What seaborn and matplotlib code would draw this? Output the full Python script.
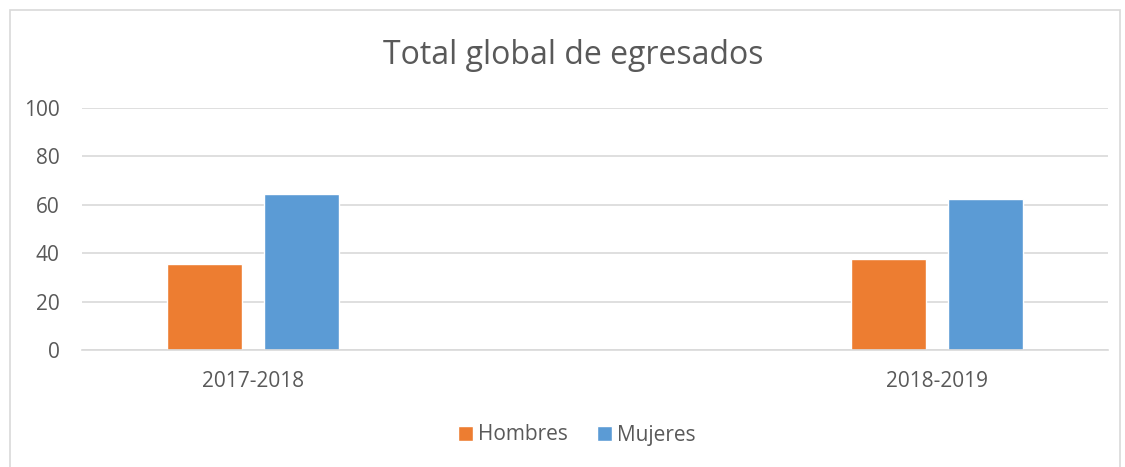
import matplotlib
matplotlib.use("Agg")
import matplotlib.pyplot as plt
import seaborn as sns
import pandas as pd
from matplotlib.patches import Rectangle

periods = ["2017-2018", "2018-2019"]
series = ["Hombres", "Mujeres"]
hombres = [35.6, 37.4]
mujeres = [64.4, 62.6]
yticks = [0, 20, 40, 60, 80, 100]
title = "Total global de egresados"
colors = ["#ED7D31", "#5B9BD5"]

df = pd.DataFrame({
    "periodo": periods * 2,
    "serie": [series[0]] * len(periods) + [series[1]] * len(periods),
    "valor": hombres + mujeres,
})

sns.set_theme(style="white")
plt.rcParams["font.family"] = ["Open Sans", "DejaVu Sans"]

fig = plt.figure(figsize=(11.25, 4.67), dpi=100)
ax = fig.add_axes([82/1125, 1-350/467, (1108-82)/1125, (350-108)/467])

sns.barplot(data=df, x="periodo", y="valor", hue="serie", order=periods,
            hue_order=series, palette=colors, width=0.2836, gap=0.217,
            saturation=1, ax=ax, legend=True)

ax.set_xlim(-0.25, 1.25)
ax.set_ylim(0, 100)
ax.set_yticks(yticks)
ax.set_yticklabels([str(v) for v in yticks])
ax.grid(axis="y", color="#D9D9D9", linewidth=1.2)
ax.set_axisbelow(True)
for s in ["top", "right", "left"]:
    ax.spines[s].set_visible(False)
ax.spines["bottom"].set_color("#D9D9D9")
ax.spines["bottom"].set_linewidth(1.2)
ax.tick_params(axis="both", length=0, labelsize=15, colors="#595959")
ax.tick_params(axis="y", pad=16)
ax.tick_params(axis="x", pad=15)
ax.set_xlabel("")
ax.set_ylabel("")

fig.text(573/1125, 1-55/467, title, ha="center", va="center",
         fontsize=23, color="#595959")

leg = ax.legend(loc="center", bbox_to_anchor=(577/1125, 1-435/467),
                bbox_transform=fig.transFigure, ncol=2, frameon=False,
                fontsize=15, handlelength=0.7, handleheight=0.7,
                handletextpad=0.25, columnspacing=1.4)
for t in leg.get_texts():
    t.set_color("#595959")

fig.add_artist(Rectangle((10/1125, -0.1), (1120-10)/1125, 1.1 - 10/467,
                         transform=fig.transFigure, fill=False,
                         edgecolor="#D9D9D9", linewidth=1.2))

fig.savefig("out.png", dpi=100, facecolor="white")
